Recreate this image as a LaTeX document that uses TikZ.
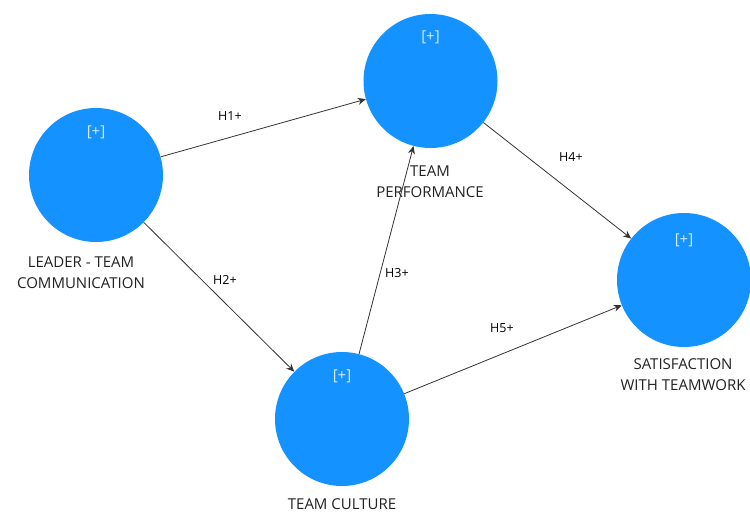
\documentclass[tikz,border=0pt]{standalone}
\usepackage{fontspec}
\setmainfont{Open Sans}
\usetikzlibrary{arrows.meta}
\definecolor{lvblue}{RGB}{20,146,255}
\definecolor{lvtext}{RGB}{34,34,34}
\definecolor{plustext}{RGB}{215,235,255}
\begin{document}
\begin{tikzpicture}[x=1pt,y=-1pt,
  lv/.style={circle,fill=lvblue,draw=none,minimum size=134pt,inner sep=0pt},
  pluslbl/.style={text=plustext,font=\fontsize{15}{17}\selectfont,inner sep=0pt},
  lvname/.style={text=lvtext,font=\fontsize{15}{21}\selectfont,align=center,inner sep=0pt},
  hyp/.style={text=black,font=\fontsize{12.5}{15}\selectfont,inner sep=0pt},
  hpath/.style={draw=black!80,line width=0.8pt,-{Stealth[length=8pt,width=7pt]}}]
\useasboundingbox (0,0) rectangle (750,514);
\node[lv] (lead) at (96,175) {};
\node[lv] (perf) at (430.5,81) {};
\node[lv] (cult) at (342,419) {};
\node[lv] (sat) at (684,280) {};
\node[pluslbl] (lp) at (96,132) {[+]};
\node[pluslbl] (pp) at (430.5,37) {[+]};
\node[pluslbl] (cp) at (342,376) {[+]};
\node[pluslbl] (sp) at (684,240) {[+]};
\node[lvname] (ln) at (81,272.5) {LEADER - TEAM\\COMMUNICATION};
\node[lvname] (pn) at (430,181.5) {TEAM\\PERFORMANCE};
\node[lvname] (cn) at (342,504) {TEAM CULTURE};
\node[lvname] (sn) at (683,374.5) {SATISFACTION\\WITH TEAMWORK};
\draw[hpath] (lead) -- (perf);
\draw[hpath] (lead) -- (cult);
\draw[hpath] (cult) -- (perf);
\draw[hpath] (perf) -- (sat);
\draw[hpath] (cult) -- (sat);
\node[hyp] (h1) at (230,116) {H1+};
\node[hyp] (h2) at (225,280) {H2+};
\node[hyp] (h3) at (397,273) {H3+};
\node[hyp] (h4) at (571,157) {H4+};
\node[hyp] (h5) at (502,328) {H5+};
\end{tikzpicture}
\end{document}
